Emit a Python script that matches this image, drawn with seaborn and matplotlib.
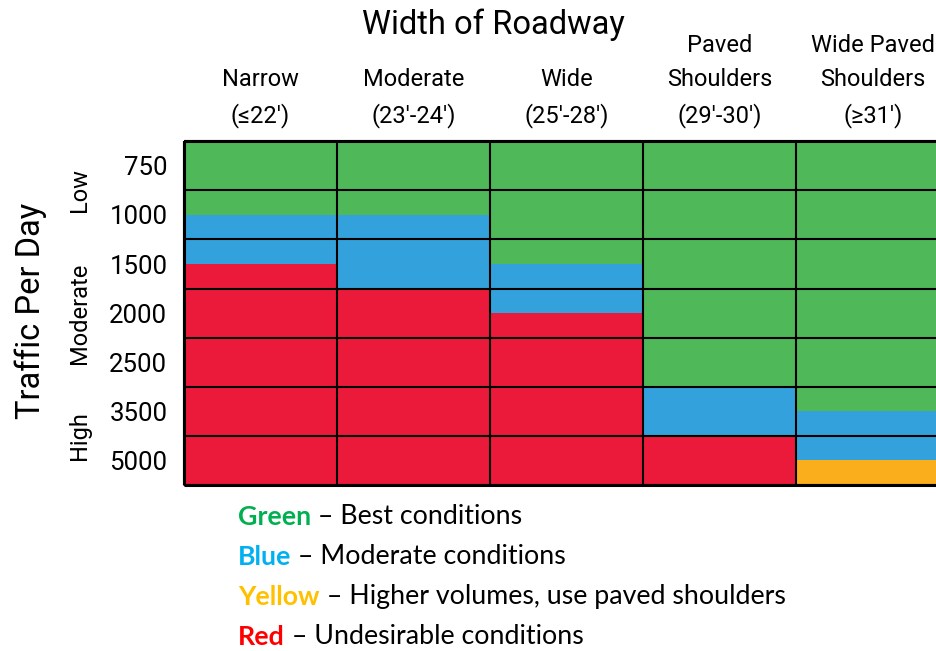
import pandas as pd
import matplotlib.pyplot as plt
import seaborn as sns
from matplotlib.colors import ListedColormap

# Data: roadway width columns, traffic rows, condition per half-row
widths = ["Narrow\n(≤22')", "Moderate\n(23'-24')", "Wide\n(25'-28')",
          "Paved\nShoulders\n(29'-30')", "Wide Paved\nShoulders\n(≥31')"]
traffic = ['750', '1000', '1500', '2000', '2500', '3500', '5000']
volume_groups = ['Low', 'Moderate', 'High']
group_rows = [(0, 1), (2, 4), (5, 6)]  # first/last traffic row of each group

# G = green, B = blue, Y = yellow, R = red; two entries per traffic level
narrow     = ['G', 'G', 'G', 'B', 'B', 'R', 'R', 'R', 'R', 'R', 'R', 'R', 'R', 'R']
moderate   = ['G', 'G', 'G', 'B', 'B', 'B', 'R', 'R', 'R', 'R', 'R', 'R', 'R', 'R']
wide       = ['G', 'G', 'G', 'G', 'G', 'B', 'B', 'R', 'R', 'R', 'R', 'R', 'R', 'R']
paved      = ['G', 'G', 'G', 'G', 'G', 'G', 'G', 'G', 'G', 'G', 'B', 'B', 'R', 'R']
wide_paved = ['G', 'G', 'G', 'G', 'G', 'G', 'G', 'G', 'G', 'G', 'G', 'B', 'B', 'Y']

legend_words = ['Green', 'Blue', 'Yellow', 'Red']
legend_text = ['Best conditions', 'Moderate conditions',
               'Higher volumes, use paved shoulders', 'Undesirable conditions']

codes = {'G': 0, 'B': 1, 'Y': 2, 'R': 3}
cell_colors = ['#4fb858', '#33a1db', '#fbae1b', '#ec1a3a']
word_colors = ['#00b050', '#00b0f0', '#ffc000', '#ff0000']

df = pd.DataFrame({w: [codes[c] for c in col] for w, col in
                   zip(widths, [narrow, moderate, wide, paved, wide_paved])})

sns.set_theme(style='white')
plt.rcParams['font.family'] = ['Roboto', 'DejaVu Sans']
plt.rcParams['text.color'] = 'black'
plt.rcParams['ytick.color'] = 'black'
plt.rcParams['ytick.labelcolor'] = 'black'

fig = plt.figure(figsize=(9.37, 6.51), dpi=100)
ax = fig.add_axes([0.1964, 0.255, 0.8036, 0.528])

sns.heatmap(df, cmap=ListedColormap(cell_colors), vmin=-0.5, vmax=3.5,
            cbar=False, linewidths=0, ax=ax, xticklabels=False, yticklabels=False)

n_rows = len(traffic)
ax.hlines(range(0, 2 * n_rows + 1, 2), 0, len(widths), color='black', lw=1.5, clip_on=False)
ax.vlines(range(0, len(widths)), 0, 2 * n_rows, color='black', lw=1.5, clip_on=False)
ax.hlines([0, 2 * n_rows], 0, len(widths), color='black', lw=2.2, clip_on=False)
ax.vlines([0], 0, 2 * n_rows, color='black', lw=2.2, clip_on=False)
ax.set_xlim(0, 4.92)

ax.set_yticks([2 * i + 1 for i in range(n_rows)])
ax.set_yticklabels(traffic, fontsize=18.5, rotation=0, color='black')
ax.tick_params(axis='y', length=0, pad=12)
ax.set_xticks([])
ax.set_xlabel('')
ax.set_ylabel('')

# column headers
for i, w in enumerate(widths):
    ax.text(i + 0.5, -0.55, w, ha='center', va='bottom', fontsize=17,
            linespacing=1.6, clip_on=False)

ax.text(2.02, -4.1, 'Width of Roadway', ha='center', va='bottom', fontsize=23.5,
        clip_on=False)

# volume groups and axis title
for g, (r0, r1) in zip(volume_groups, group_rows):
    ax.text(-0.68, (2 * r0 + 2 * r1 + 2) / 2, g, rotation=90, ha='center', va='center',
            fontsize=17, clip_on=False)
fig.text(0.033, 0.523, 'Traffic Per Day', rotation=90, ha='center', va='center',
         fontsize=23.5)

# color key
for k, (word, txt) in enumerate(zip(legend_words, legend_text)):
    y = 1 - (529 + 40 * k) / 651
    t1 = fig.text(238 / 937, y, word, color=word_colors[k], fontsize=19.3,
                  fontweight='bold', family=['Lato', 'DejaVu Sans'], va='bottom')
    ax.annotate(' – ' + txt, xy=(1, 0), xycoords=t1, va='bottom', ha='left',
                fontsize=19.3, color='black', fontweight='normal',
                family=['Lato', 'DejaVu Sans'])

fig.savefig('out.png', dpi=100)
